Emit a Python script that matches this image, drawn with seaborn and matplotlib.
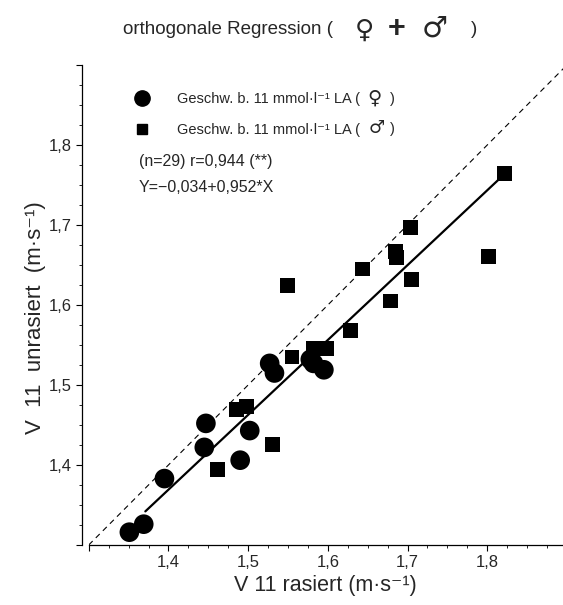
import matplotlib
matplotlib.use("Agg")
import matplotlib.pyplot as plt
import matplotlib.ticker as mticker
from matplotlib.lines import Line2D
import pandas as pd
import seaborn as sns

# data
x_female = [1.351, 1.369, 1.395, 1.447, 1.445, 1.490, 1.502, 1.527, 1.533, 1.582, 1.595, 1.578]
y_female = [1.316, 1.326, 1.383, 1.452, 1.422, 1.406, 1.443, 1.527, 1.515, 1.527, 1.519, 1.532]
x_male = [1.822, 1.704, 1.685, 1.686, 1.801, 1.643, 1.705, 1.679, 1.628, 1.582,
          1.598, 1.549, 1.555, 1.485, 1.498, 1.462, 1.531]
y_male = [1.764, 1.697, 1.667, 1.659, 1.661, 1.645, 1.632, 1.605, 1.568, 1.546,
          1.546, 1.624, 1.535, 1.469, 1.473, 1.394, 1.426]
fit_x = [1.371, 1.822]
fit_y = [1.342, 1.764]
ident = [1.3, 1.9]

df = pd.DataFrame({
    'rasiert': x_female + x_male,
    'unrasiert': y_female + y_male,
    'sex': ['w'] * len(x_female) + ['m'] * len(x_male),
})

sns.set_style('ticks')
plt.rcParams['font.family'] = ['Liberation Sans', 'DejaVu Sans']
sym = ['DejaVu Sans']

fig = plt.figure(figsize=(5.63, 6.05), dpi=100)
ax = fig.add_axes([0.1576, 0.0992, 0.8424, 0.7934])

ax.plot(ident, ident, color='black', lw=0.8, dashes=(5, 4))
ax.plot(fit_x, fit_y, color='black', lw=1.6)
sns.scatterplot(data=df, x='rasiert', y='unrasiert', style='sex', size='sex',
                markers={'w': 'o', 'm': 's'}, sizes={'w': 200, 'm': 115},
                color='black', linewidth=0, legend=False, ax=ax, zorder=3)

ax.set_xlim(1.3, 1.895)
ax.set_ylim(1.3, 1.9)

major = [1.3, 1.4, 1.5, 1.6, 1.7, 1.8, 1.9]
labels = ['', '1,4', '1,5', '1,6', '1,7', '1,8', '']
for axis in (ax.xaxis, ax.yaxis):
    axis.set_major_locator(mticker.FixedLocator(major))
    axis.set_major_formatter(mticker.FixedFormatter(labels))
    axis.set_minor_locator(mticker.MultipleLocator(0.025))
ax.tick_params(which='major', length=4, width=0.8, labelsize=12, color='black', pad=3.5)
ax.tick_params(which='minor', length=2.5, width=0.6, color='black')

sns.despine(ax=ax)
ax.spines['left'].set_position(('outward', 5))
for s in ('left', 'bottom'):
    ax.spines[s].set_linewidth(0.9)
    ax.spines[s].set_color('black')

ax.set_xlabel('V 11 rasiert (m·s⁻¹)', fontsize=15.5, labelpad=3)
ax.set_ylabel('V  11  unrasiert  (m·s⁻¹)', fontsize=16, labelpad=2)
ax.yaxis.label.set_y(0.473)

# title, symbols set larger and bold as in the original
fig.text(0.218, 0.952, 'orthogonale Regression (', ha='left', va='center', fontsize=13.5)
fig.text(0.648, 0.950, '♀', ha='center', va='center', fontsize=19, fontweight='bold', family=sym)
fig.text(0.705, 0.952, '+', ha='center', va='center', fontsize=22, fontweight='bold')
fig.text(0.773, 0.952, '♂', ha='center', va='center', fontsize=21, fontweight='bold', family=sym)
fig.text(0.837, 0.952, ')', ha='left', va='center', fontsize=13.5)

handles = [Line2D([], [], marker='o', color='black', ls='none', markersize=11),
           Line2D([], [], marker='s', color='black', ls='none', markersize=7.5)]
ax.legend(handles, ['Geschw. b. 11 mmol·l⁻¹ LA (', 'Geschw. b. 11 mmol·l⁻¹ LA ('],
          loc='upper left', bbox_to_anchor=(0.061, 0.9708), frameon=False, fontsize=10.5,
          handlelength=1.5, handletextpad=1.65, labelspacing=1.15)
ax.text(0.6025, 0.930, '♀', transform=ax.transAxes, ha='center', va='center',
        fontsize=14, fontweight='bold', family=sym)
ax.text(0.608, 0.869, '♂', transform=ax.transAxes, ha='center', va='center',
        fontsize=13, fontweight='bold', family=sym)
ax.text(0.636, 0.930, ')', transform=ax.transAxes, ha='left', va='center', fontsize=10.5)
ax.text(0.636, 0.866, ')', transform=ax.transAxes, ha='left', va='center', fontsize=10.5)

ax.text(0.106, 0.7985, '(n=29) r=0,944 (**)', transform=ax.transAxes, va='center', fontsize=11.5)
ax.text(0.106, 0.7438, 'Y=−0,034+0,952*X', transform=ax.transAxes, va='center', fontsize=11.5)

fig.savefig('out.png', dpi=100)
